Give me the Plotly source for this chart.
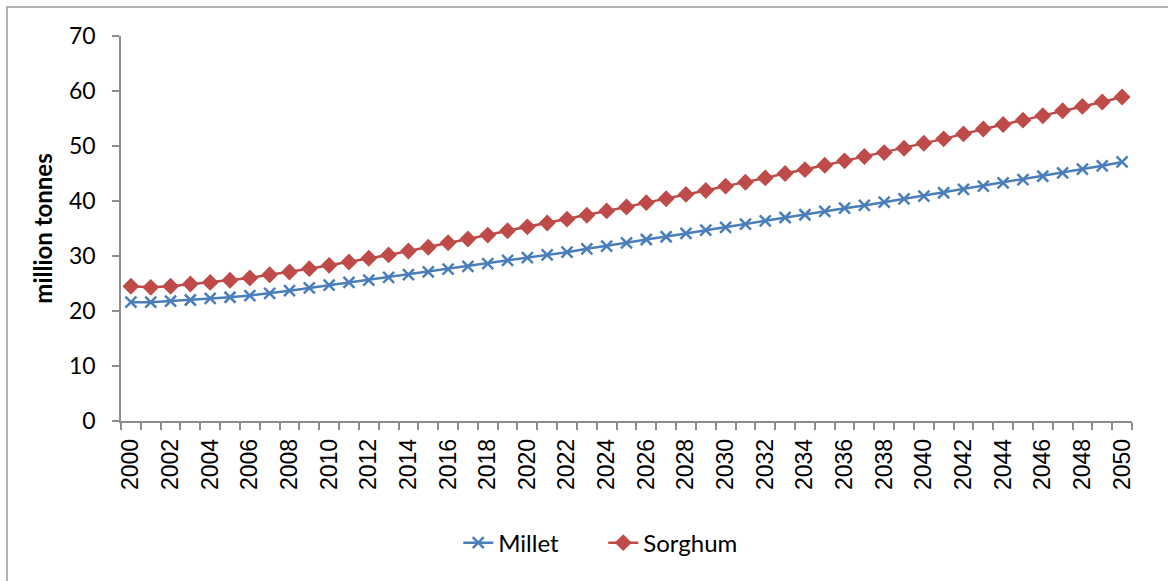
import plotly.graph_objects as go

# Projected production, million tonnes
years = list(range(2000, 2051))

millet = [
    21.6, 21.6, 21.8, 22.0, 22.3, 22.5, 22.8, 23.2, 23.7, 24.2,
    24.7, 25.2, 25.6, 26.1, 26.6, 27.1, 27.6, 28.1, 28.6, 29.2,
    29.7, 30.2, 30.7, 31.3, 31.8, 32.4, 33.0, 33.5, 34.1, 34.7,
    35.2, 35.8, 36.4, 37.0, 37.5, 38.1, 38.7, 39.2, 39.8, 40.4,
    40.9, 41.5, 42.1, 42.7, 43.3, 43.9, 44.5, 45.1, 45.8, 46.4,
    47.1,
]

sorghum = [
    24.5, 24.3, 24.5, 24.9, 25.2, 25.6, 26.0, 26.6, 27.1, 27.7,
    28.3, 28.9, 29.6, 30.2, 30.9, 31.6, 32.4, 33.1, 33.8, 34.6,
    35.3, 36.0, 36.7, 37.4, 38.2, 38.9, 39.7, 40.4, 41.2, 41.9,
    42.7, 43.4, 44.2, 45.0, 45.7, 46.5, 47.3, 48.1, 48.8, 49.6,
    50.5, 51.3, 52.2, 53.1, 53.9, 54.7, 55.5, 56.4, 57.2, 58.0,
    58.9,
]

x_tick_years = list(range(2000, 2051, 2))
y_ticks = list(range(0, 71, 10))

MILLET_COLOR = "#4A7EBB"
SORGHUM_COLOR = "#BE4B48"
AXIS_COLOR = "#8C8C8C"

fig = go.Figure()

fig.add_trace(go.Scatter(
    x=years, y=millet, name="Millet", mode="lines+markers",
    line=dict(color=MILLET_COLOR, width=2.5),
    marker=dict(symbol="x-thin", size=11,
                line=dict(color=MILLET_COLOR, width=2.5)),
))

fig.add_trace(go.Scatter(
    x=years, y=sorghum, name="Sorghum", mode="lines+markers",
    line=dict(color=SORGHUM_COLOR, width=2.5),
    marker=dict(symbol="diamond", size=13, color=SORGHUM_COLOR),
))

fig.update_layout(
    width=1168, height=581,
    margin=dict(l=121, r=36, t=36, b=160),
    paper_bgcolor="white", plot_bgcolor="white",
    font=dict(family="Liberation Sans, Arial, sans-serif", color="black"),
    showlegend=True,
    legend=dict(
        orientation="h", x=0.477, xanchor="center", y=-0.317, yanchor="middle",
        font=dict(family="Lato, Open Sans, sans-serif", size=24),
        entrywidth=100, bgcolor="rgba(0,0,0,0)",
    ),
    shapes=[dict(
        type="rect", xref="paper", yref="paper",
        x0=-0.1128, x1=1.05, y0=-0.5, y1=1.0753,
        line=dict(color="#9A9A9A", width=1.5), layer="below",
    )],
)

fig.update_xaxes(
    range=[1999.5, 2050.5],
    tickmode="array", tickvals=x_tick_years,
    ticktext=[str(y) for y in x_tick_years],
    tickangle=-90,
    tickfont=dict(family="Liberation Sans, Arial, sans-serif", size=23),
    ticks="outside", ticklen=7, tickcolor="rgba(0,0,0,0)",
    minor=dict(tick0=1999.5, dtick=1, ticks="outside", ticklen=7,
               tickcolor=AXIS_COLOR, tickwidth=1.5, showgrid=False),
    showline=True, linecolor=AXIS_COLOR, linewidth=1.5,
    showgrid=False, zeroline=False,
)

fig.update_yaxes(
    range=[0, 70],
    tickmode="array", tickvals=y_ticks,
    tickfont=dict(family="Lato, Open Sans, sans-serif", size=23),
    ticks="outside", ticklen=7, tickcolor=AXIS_COLOR, tickwidth=1.5,
    ticklabelstandoff=12,
    showline=True, linecolor=AXIS_COLOR, linewidth=1.5,
    showgrid=False, zeroline=False,
    title=dict(text="<b>million tonnes</b>",
               font=dict(family="Lato, Open Sans, sans-serif", size=24),
               standoff=10),
)

fig.write_html("out.html")
